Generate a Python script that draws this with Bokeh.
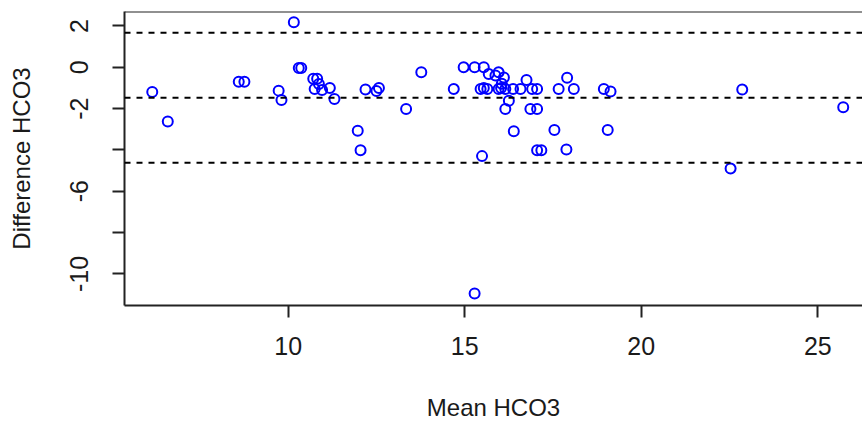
from bokeh.plotting import figure
from bokeh.models import Span, FixedTicker, Range1d
from bokeh.embed import file_html
from bokeh.resources import INLINE

# Bland-Altman data
mean_hco3 = [6.15, 6.59, 8.60, 8.76, 9.73, 9.81, 10.16, 10.30, 10.37, 10.71,
             10.82, 10.75, 10.96, 10.87, 11.18, 11.31, 11.97, 12.05, 12.19, 12.57,
             12.50, 13.34, 13.77, 14.69, 14.97, 15.28, 15.54, 15.28, 15.45, 15.54,
             15.64, 15.49, 15.68, 15.87, 15.96, 16.11, 15.96, 16.05, 16.15, 16.03,
             16.37, 16.58, 16.25, 16.15, 16.39, 16.75, 16.91, 17.05, 16.86, 17.05,
             17.05, 17.17, 17.54, 17.66, 17.88, 17.90, 18.09, 18.94, 19.13, 19.05,
             22.53, 22.86, 25.72]
diff_hco3 = [-1.20, -2.62, -0.70, -0.70, -1.13, -1.58, 2.18, -0.03, -0.03, -0.56,
             -0.56, -1.05, -1.10, -0.81, -1.00, -1.53, -3.07, -4.01, -1.07, -1.00,
             -1.15, -2.02, -0.24, -1.05, 0.00, 0.00, 0.00, -10.95, -1.05, -1.00,
             -1.05, -4.30, -0.32, -0.40, -0.24, -0.49, -1.05, -0.80, -1.05, -1.00,
             -1.05, -1.05, -1.62, -2.02, -3.10, -0.61, -1.05, -1.05, -2.02, -2.02,
             -4.01, -4.01, -3.04, -1.05, -3.98, -0.51, -1.05, -1.05, -1.17, -3.04,
             -4.90, -1.08, -1.94]

# mean difference and limits of agreement
limit_values = [1.67, -1.47, -4.62]

x_ticks = [10, 15, 20, 25]
y_ticks = [-10, -8, -6, -4, -2, 0, 2]
y_tick_labels = {-10: "-10", -8: "", -6: "-6", -4: "", -2: "-2", 0: "0", 2: "2"}

x_lo, x_hi = 5.364, 26.266
y_lo, y_hi = -11.53, 2.70

FONT = "Liberation Sans"
TXT = "#1a1a1a"

p = figure(width=862, height=423, output_backend="svg", toolbar_location=None,
           x_range=Range1d(x_lo, x_hi), y_range=Range1d(y_lo, y_hi),
           min_border_left=124, min_border_top=11, min_border_right=0,
           min_border_bottom=118)

p.background_fill_color = "white"
p.border_fill_color = "white"
p.outline_line_color = None
p.xgrid.visible = False
p.ygrid.visible = False

for ax in (p.xaxis[0], p.yaxis[0]):
    ax.axis_line_width = 2
    ax.axis_line_color = "#222222"
    ax.major_tick_line_width = 2
    ax.major_tick_line_color = "#222222"
    ax.major_tick_in = 0
    ax.major_tick_out = 12
    ax.minor_tick_line_color = None
    ax.major_label_text_font = FONT
    ax.major_label_text_font_size = "25px"
    ax.major_label_text_color = TXT
    ax.axis_label_text_font = FONT
    ax.axis_label_text_font_size = "24px"
    ax.axis_label_text_font_style = "normal"
    ax.axis_label_text_color = TXT

p.xaxis.ticker = FixedTicker(ticks=x_ticks)
p.yaxis.ticker = FixedTicker(ticks=y_ticks)
p.yaxis.major_label_overrides = y_tick_labels
p.yaxis.major_label_orientation = "vertical"

p.xaxis.axis_label = "Mean HCO3"
p.yaxis.axis_label = "Difference HCO3"
p.xaxis.major_label_standoff = 19
p.xaxis.axis_label_standoff = 36
p.yaxis.major_label_standoff = 24
p.yaxis.axis_label_standoff = 33

# top border of the plot box
p.add_layout(Span(location=y_hi, dimension="width", line_color="#222222", line_width=2))

for v in limit_values:
    p.add_layout(Span(location=v, dimension="width", line_color="black",
                      line_width=2, line_dash="6 6"))

p.scatter(mean_hco3, diff_hco3, marker="circle", size=10, fill_color=None,
          line_color="#0000ff", line_width=2)

open("out.html", "w").write(file_html(p, INLINE))
